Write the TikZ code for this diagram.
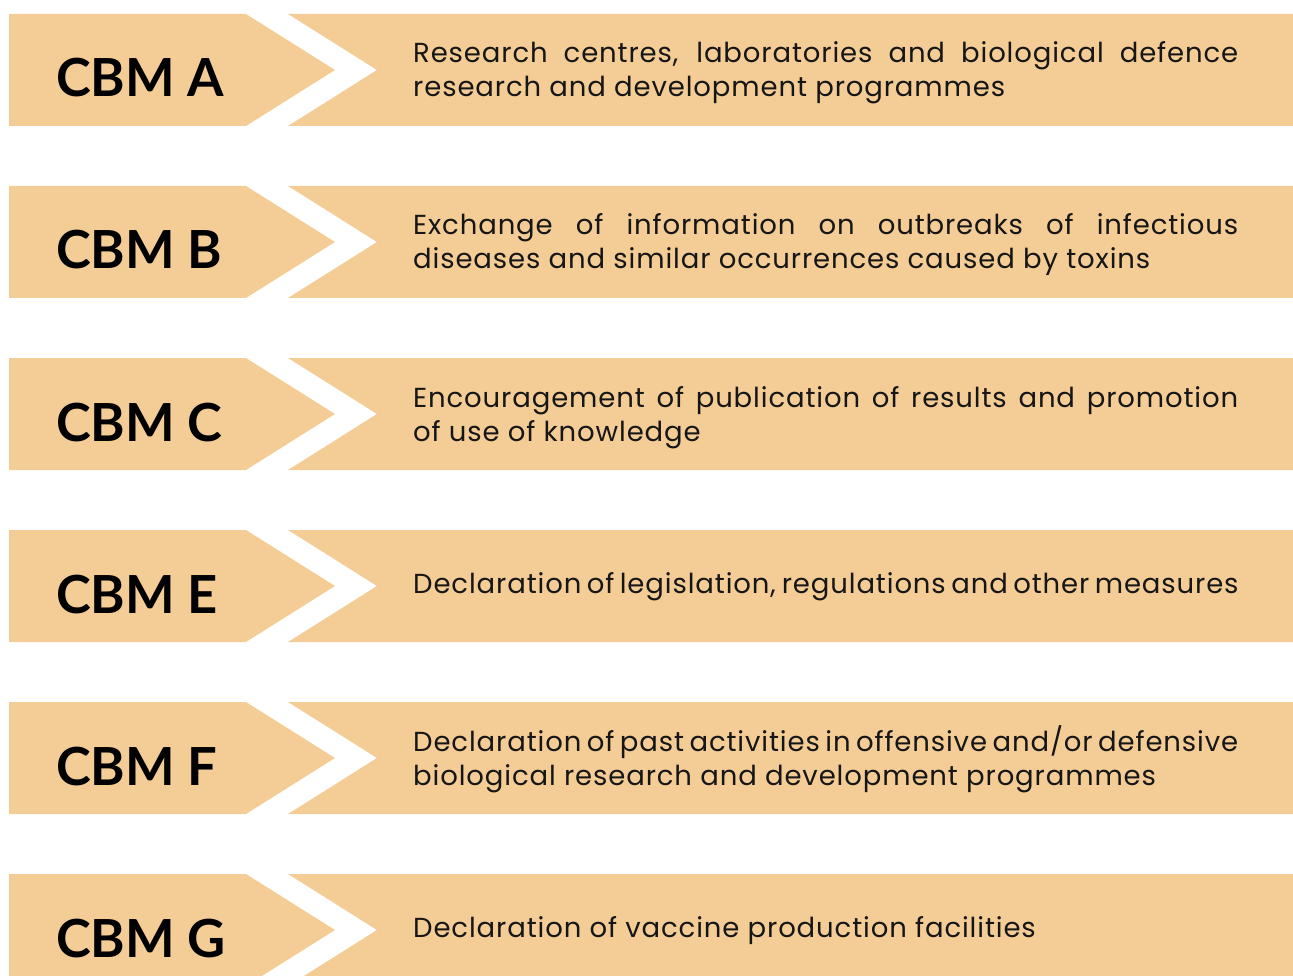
\documentclass[tikz,border=0pt]{standalone}
\usepackage{fontspec}
\setmainfont{Lato}
\newfontfamily\descfont{Poppins}[LetterSpace=3.2]
\definecolor{bandfill}{HTML}{F4CD96}
\definecolor{bodyink}{HTML}{161616}
\newcommand{\cbmrow}[4]{%
  % #1 node suffix, #2 top edge (px), #3 title, #4 description
  \fill[bandfill] (9,#2) -- (246,#2) -- (335,#2+56) -- (246,#2+112) -- (9,#2+112) -- cycle;
  \fill[bandfill] (288,#2) -- (1293,#2) -- (1293,#2+112) -- (288,#2+112) -- (377,#2+56) -- cycle;
  \node[titletext] (t#1) at (56,#2+83) {#3};
  #4
}
\newcommand{\fullline}[1]{\makebox[825pt][s]{#1}}
\begin{document}
\begin{tikzpicture}[x=1pt,y=-1pt,
  titletext/.style={anchor=base west,inner sep=0pt,font=\fontsize{52.5}{60}\selectfont\bfseries,text=black},
  desctext/.style={anchor=base west,inner sep=0pt,font=\descfont\fontsize{27.5}{34}\selectfont,text=bodyink}]
\useasboundingbox (0,0) rectangle (1293,976);
\cbmrow{a}{14}{CBM A}{%
  \node[desctext] (da) at (413,14+49) {\parbox[t]{825pt}{\fullline{Research centres, laboratories and biological defence}\\research and development programmes}};}
\cbmrow{b}{186}{CBM B}{%
  \node[desctext] (db) at (413,186+49) {\parbox[t]{825pt}{\fullline{Exchange of information on outbreaks of infectious}\\diseases and similar occurrences caused by toxins}};}
\cbmrow{c}{358}{CBM C}{%
  \node[desctext] (dc) at (413,358+49) {\parbox[t]{825pt}{\fullline{Encouragement of publication of results and promotion}\\of use of knowledge}};}
\cbmrow{e}{530}{CBM E}{%
  \node[desctext] (de) at (413,530+63) {\fullline{Declaration of legislation, regulations and other measures}};}
\cbmrow{f}{702}{CBM F}{%
  \node[desctext] (df) at (413,702+49) {\parbox[t]{825pt}{\fullline{Declaration of past activities in offensive and/or defensive}\\biological research and development programmes}};}
\cbmrow{g}{874}{CBM G}{%
  \node[desctext] (dg) at (413,874+63) {Declaration of vaccine production facilities};}
\end{tikzpicture}
\end{document}
